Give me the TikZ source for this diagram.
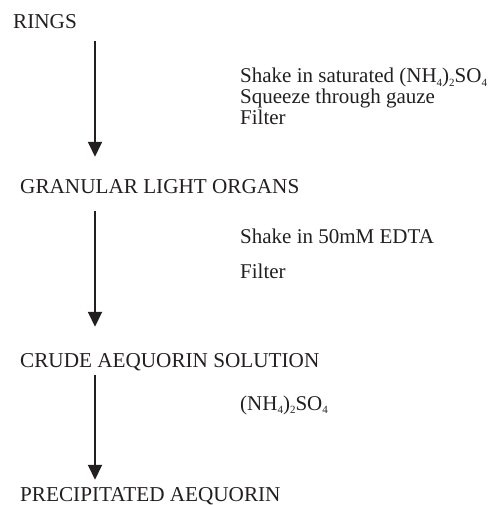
\documentclass[tikz,border=0pt]{standalone}
\usepackage{fontspec}
\setmainfont{Liberation Serif}
\usetikzlibrary{positioning,calc,arrows.meta}
\newcommand{\chemsub}[1]{\raisebox{-0.35ex}{\fontsize{11}{11}\selectfont #1}}

\begin{document}
\begin{tikzpicture}[
    x=1pt, y=-1pt,
    stage/.style={anchor=base west, inner sep=0pt, font=\fontsize{21.2}{24}\selectfont, text=ink},
    treat/.style={anchor=base west, inner sep=0pt, font=\fontsize{21}{24}\selectfont, text=ink},
    arr/.style={-{Triangle[width=14pt,length=15pt]}, line width=1.9pt, draw=ink}
]
    \definecolor{ink}{HTML}{231F20}
    \useasboundingbox (0,0) rectangle (496,505);

    % Stages (top to bottom)
    \node[stage] (rings)  at (13,29)  {RINGS};
    \node[stage] (organs) at (20,193) {GRANULAR LIGHT ORGANS};
    \node[stage] (crude)  at (20,367) {CRUDE AEQUORIN SOLUTION};
    \node[stage] (precip) at (20,501) {PRECIPITATED AEQUORIN};

    % Treatments (right of the arrows)
    \node[treat] (shake1)  at (240,83)  {Shake in saturated (NH\chemsub{4})\chemsub{2}SO\chemsub{4}};
    \node[treat] (squeeze) at (240,104) {Squeeze through gauze};
    \node[treat] (filter1) at (240,125) {Filter};
    \node[treat] (shake2)  at (240,243) {Shake in 50mM EDTA};
    \node[treat] (filter2) at (240,278) {Filter};
    \node[treat] (salt)    at (240,410) {(NH\chemsub{4})\chemsub{2}SO\chemsub{4}};

    % Process arrows
    \coordinate (ax) at (95,0);
    \draw[arr] ([yshift=-12pt]rings.south -| ax) -- ([yshift=22pt]organs.north -| ax);
    \draw[arr] ([yshift=-18pt]organs.south -| ax) -- ([yshift=26pt]crude.north -| ax);
    \draw[arr] ([yshift=-4pt]crude.south -| ax) -- ([yshift=7pt]precip.north -| ax);
\end{tikzpicture}
\end{document}
